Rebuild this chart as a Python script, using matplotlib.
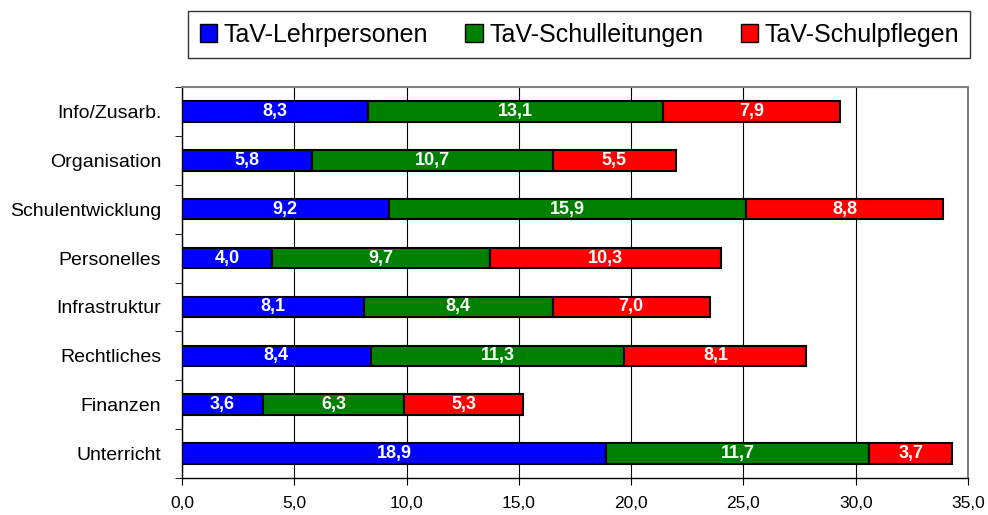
import matplotlib.pyplot as plt
import numpy as np

plt.rcParams['font.family'] = ['Liberation Sans', 'DejaVu Sans']

categories = ['Info/Zusarb.', 'Organisation', 'Schulentwicklung', 'Personelles',
              'Infrastruktur', 'Rechtliches', 'Finanzen', 'Unterricht']
lehrpersonen = [8.3, 5.8, 9.2, 4.0, 8.1, 8.4, 3.6, 18.9]
schulleitungen = [13.1, 10.7, 15.9, 9.7, 8.4, 11.3, 6.3, 11.7]
schulpflegen = [7.9, 5.5, 8.8, 10.3, 7.0, 8.1, 5.3, 3.7]
series_names = ['TaV-Lehrpersonen', 'TaV-Schulleitungen', 'TaV-Schulpflegen']
colors = ['#0000ff', '#008000', '#ff0000']

fig = plt.figure(figsize=(9.88, 5.15), dpi=100)
ax = fig.add_axes([0.1842, 0.0718, 0.7956, 0.7592])

y = np.arange(len(categories))
left = np.zeros(len(categories))
for vals, name, c in zip([lehrpersonen, schulleitungen, schulpflegen], series_names, colors):
    bars = ax.barh(y, vals, left=left, height=0.42, color=c, edgecolor='black',
                   linewidth=1.5, label=name, zorder=3)
    for b, v in zip(bars, vals):
        ax.text(b.get_x() + b.get_width() / 2, b.get_y() + b.get_height() / 2,
                f'{v:.1f}'.replace('.', ','), ha='center', va='center',
                color='white', fontweight='bold', fontsize=13, zorder=4)
    left += np.array(vals)

ax.set_ylim(len(categories) - 0.5, -0.5)
ax.set_xlim(0, 35)
ax.set_xticks(np.arange(0, 35.1, 5))
ax.set_xticklabels([f'{t:.1f}'.replace('.', ',') for t in np.arange(0, 35.1, 5)])
ax.set_yticks(y)
ax.set_yticklabels(categories)
ax.set_yticks(np.arange(-0.5, len(categories), 1), minor=True)
ax.tick_params(axis='y', which='major', length=0, pad=15, labelsize=14)
ax.tick_params(axis='y', which='minor', length=5, direction='out')
ax.tick_params(axis='x', length=5, direction='out', labelsize=12.5, pad=8)
ax.grid(axis='x', color='black', linewidth=0.8, zorder=0)
ax.set_axisbelow(True)
for s in ['top', 'right']:
    ax.spines[s].set_color('#808080')
    ax.spines[s].set_linewidth(1.5)
for s in ['left', 'bottom']:
    ax.spines[s].set_color('black')
    ax.spines[s].set_linewidth(1.0)

leg = fig.legend(loc='upper center', bbox_to_anchor=(0.5865, 0.978), ncol=3,
                 fontsize=18, frameon=True, fancybox=False, edgecolor='black',
                 handlelength=0.7, handleheight=0.7, handletextpad=0.25,
                 columnspacing=1.5, borderpad=0.45, borderaxespad=0)
leg.get_frame().set_linewidth(1.0)
for h in leg.legend_handles:
    h.set_linewidth(1.0)

fig.savefig('out.png', dpi=100)
